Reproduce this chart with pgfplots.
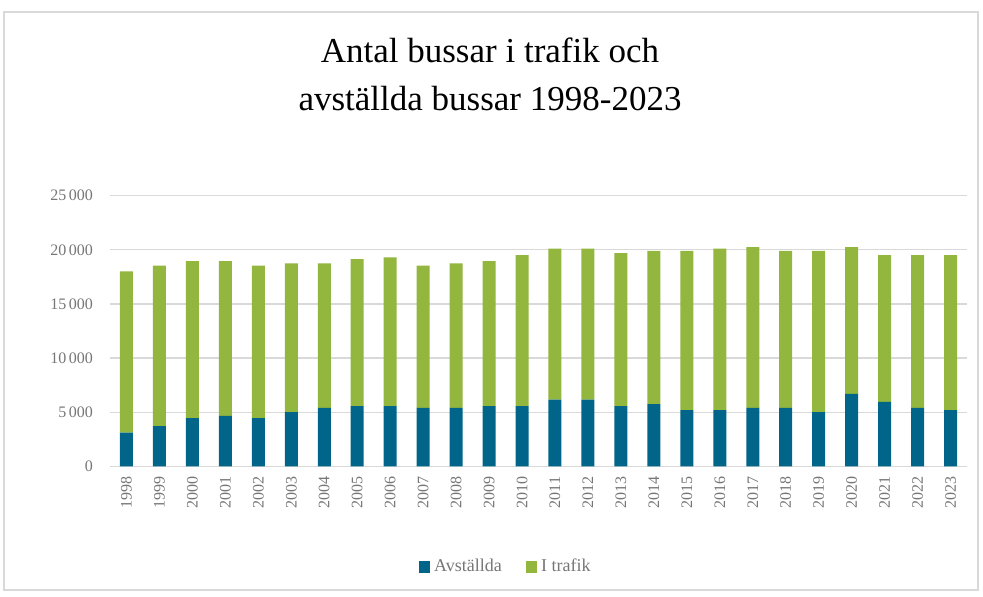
\documentclass[border=0pt]{standalone}
\usepackage{fontspec}
\setmainfont{Liberation Serif}
\usepackage{pgfplots}
\usepackage{pgfplotstable}
\pgfplotsset{compat=1.18}
\definecolor{avst}{RGB}{0,101,137}
\definecolor{trafik}{RGB}{146,182,62}
\definecolor{gridc}{RGB}{217,217,217}
\definecolor{labc}{RGB}{118,118,118}
\pgfplotstableread{
x year avst trafik
0 1998 3100 14900
1 1999 3700 14850
2 2000 4450 14500
3 2001 4650 14300
4 2002 4450 14100
5 2003 5000 13750
6 2004 5400 13350
7 2005 5550 13600
8 2006 5550 13750
9 2007 5400 13150
10 2008 5400 13350
11 2009 5550 13400
12 2010 5550 13950
13 2011 6150 13950
14 2012 6150 13950
15 2013 5550 14150
16 2014 5750 14150
17 2015 5200 14700
18 2016 5200 14900
19 2017 5400 14850
20 2018 5400 14500
21 2019 5000 14900
22 2020 6700 13550
23 2021 5950 13550
24 2022 5400 14100
25 2023 5200 14300
}\datatable
\begin{document}
\begin{tikzpicture}
\path (0,0) rectangle (491.5pt,298.5pt);
\draw[gridc, line width=0.8pt] (2pt,3.5pt) rectangle (489pt,292.5pt);
\node[align=center, font=\fontsize{17.5}{24}\selectfont, text=black] at (245pt,261.5pt) {Antal bussar i trafik och\\avställda bussar 1998-2023};
\begin{axis}[
  at={(55pt,65.35pt)}, anchor=south west,
  scale only axis,
  width=428.5pt, height=135.3pt,
  ybar stacked,
  bar width=6.5pt,
  xmin=-0.5, xmax=25.5,
  ymin=0, ymax=25000,
  ytick={0,5000,10000,15000,20000,25000},
  xtick=data,
  xticklabels from table={\datatable}{year},
  x tick label style={rotate=90, anchor=east, font=\fontsize{8}{9}\selectfont, text=labc, inner sep=1pt, xshift=0pt},
  y tick label style={font=\fontsize{8}{9}\selectfont, text=labc},
  /pgf/number format/assume math mode=true,
  /pgf/number format/1000 sep={\,},
  scaled y ticks=false,
  ymajorgrids,
  grid style={gridc, line width=0.6pt},
  axis line style={draw=none},
  major tick length=0pt,
  xticklabel shift=4pt,
  yticklabel shift=5pt,
  legend style={at={(0.463,-0.372)}, anchor=center, draw=none, fill=none, legend columns=2, font=\fontsize{9}{10}\selectfont, text=labc, /tikz/every even column/.append style={column sep=10pt}},
  legend image code/.code={\fill[#1] (0pt,-2.8pt) rectangle (5.6pt,2.8pt);},
]
\addplot[fill=avst, draw=none] table[x=x, y=avst] {\datatable};
\addplot[fill=trafik, draw=none] table[x=x, y=trafik] {\datatable};
\legend{Avställda, I trafik}
\end{axis}
\end{tikzpicture}
\end{document}
